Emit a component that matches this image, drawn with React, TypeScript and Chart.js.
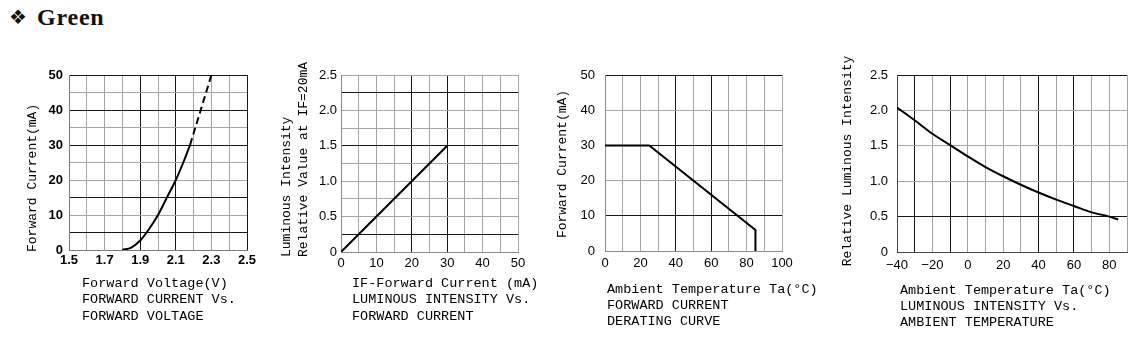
import React, { useEffect, useRef } from 'react';
import { Chart, registerables } from 'chart.js';

Chart.register(...registerables);

// ================= DATA =================
// Panel 1 – Forward current vs. forward voltage
const fvVoltage = [1.8, 1.85, 1.9, 1.95, 2.0, 2.05, 2.1, 2.15, 2.18];
const fvCurrent = [0, 0.7, 2.7, 6, 10, 15, 20, 26, 30];
const fvVoltageDashed = [2.18, 2.3];
const fvCurrentDashed = [30, 50];
const fvXTickLabels = [1.5, 1.7, 1.9, 2.1, 2.3, 2.5];
const fvYTickLabels = [0, 10, 20, 30, 40, 50];

// Panel 2 – Luminous intensity vs. forward current
const liCurrent = [0, 30];
const liRelative = [0, 1.5];
const liXTickLabels = [0, 10, 20, 30, 40, 50];
const liYTickLabels = [0, 0.5, 1.0, 1.5, 2.0, 2.5];

// Panel 3 – Forward current derating curve
const drTemperature = [0, 25, 85, 85];
const drCurrent = [30, 30, 6, 0];
const drXTickLabels = [0, 20, 40, 60, 80, 100];
const drYTickLabels = [0, 10, 20, 30, 40, 50];

// Panel 4 – Luminous intensity vs. ambient temperature
const ltTemperature = [-40, -30, -20, -10, 0, 10, 20, 30, 40, 50, 60, 70, 80, 85];
const ltRelative = [2.04, 1.86, 1.67, 1.51, 1.35, 1.2, 1.07, 0.95, 0.84, 0.74, 0.65, 0.56, 0.5, 0.46];
const ltXTickLabels = [-40, -20, 0, 20, 40, 60, 80];
const ltYTickLabels = [0, 0.5, 1.0, 1.5, 2.0, 2.5];

// Texts
const headingSymbol = '❖';
const headingText = 'Green';
const fvYTitle = ['Forward Current(mA)'];
const fvCaption = ['Forward Voltage(V)', 'FORWARD CURRENT Vs.', 'FORWARD VOLTAGE'];
const liYTitle = ['Luminous Intensity', 'Relative Value at IF=20mA'];
const liCaption = ['IF-Forward Current (mA)', 'LUMINOUS INTENSITY Vs.', 'FORWARD CURRENT'];
const drYTitle = ['Forward Current(mA)'];
const drCaption = ['Ambient Temperature Ta(°C)', 'FORWARD CURRENT', 'DERATING CURVE'];
const ltYTitle = ['Relative Luminous Intensity'];
const ltCaption = ['Ambient Temperature Ta(°C)', 'LUMINOUS INTENSITY Vs.', 'AMBIENT TEMPERATURE'];

// ================= STYLE =================
const LIGHT = '#a4a4a4';
const DARK = '#161616';
const TEXT = '#000000';
const MONO = '"Liberation Mono", "DejaVu Sans Mono", monospace';
const SANS = '"Liberation Sans", Arial, sans-serif';

const near = (list: number[], v: number) => list.some((l) => Math.abs(l - v) < 1e-6);
const pts = (xs: number[], ys: number[]) => xs.map((x, i) => ({ x, y: ys[i] }));
const oneDec = (v: number) => (v === 0 ? '0' : v.toFixed(1));
const plain = (v: number) => (v < 0 ? '−' + Math.abs(v) : String(v));

const panelTextPlugin = {
  id: 'panelText',
  afterDraw(chart: any, _args: any, opts: any) {
    const { ctx } = chart;
    ctx.save();
    ctx.fillStyle = TEXT;
    ctx.textBaseline = 'middle';
    const t = opts.yTitle;
    if (t) {
      ctx.font = `13px ${MONO}`;
      t.lines.forEach((line: string, i: number) => {
        ctx.save();
        ctx.translate(t.x + i * t.lh, t.y);
        ctx.rotate(-Math.PI / 2);
        ctx.textAlign = t.align;
        ctx.fillText(line, 0, 0);
        ctx.restore();
      });
    }
    const c = opts.caption;
    if (c) {
      ctx.font = `13.5px ${MONO}`;
      ctx.textAlign = 'left';
      c.lines.forEach((line: string, i: number) => ctx.fillText(line, c.x, c.y + i * c.lh));
    }
    ctx.restore();
  },
};

interface AxisSpec {
  min: number;
  max: number;
  step: number;
  labels: number[];
  fmt: (v: number) => string;
  dark: number[];
  pad: number;
  bold?: boolean;
  border: string;
}

function axis(a: AxisSpec, fit: (s: any) => void) {
  return {
    type: 'linear',
    min: a.min,
    max: a.max,
    ticks: {
      stepSize: a.step,
      autoSkip: false,
      maxRotation: 0,
      minRotation: 0,
      padding: a.pad,
      color: TEXT,
      font: { family: SANS, size: 13, weight: a.bold ? 'bold' : 'normal' },
      callback: (v: number) => (near(a.labels, v) ? a.fmt(v) : ''),
    },
    grid: {
      drawTicks: false,
      lineWidth: 1,
      color: (c: any) => (c.tick && near(a.dark, c.tick.value) ? DARK : LIGHT),
    },
    border: { color: a.border, width: 1 },
    afterFit: fit,
  };
}

interface PanelSpec {
  left: number;
  top: number;
  right: number;
  bottom: number;
  plot: { l: number; t: number; r: number; b: number };
  x: AxisSpec;
  y: AxisSpec;
  datasets: any[];
  yTitle: { lines: string[]; x: number; y: number; align: string; lh: number };
  caption: { lines: string[]; x: number; y: number; lh: number };
}

const line = (xs: number[], ys: number[], extra: any = {}) => ({
  data: pts(xs, ys),
  borderColor: '#000',
  borderWidth: 2,
  pointRadius: 0,
  fill: false,
  tension: 0,
  ...extra,
});

const panels: PanelSpec[] = [
  {
    left: 15, top: 45, right: 267, bottom: 340,
    plot: { l: 69, t: 75, r: 247, b: 250 },
    x: { min: 1.5, max: 2.5, step: 0.1, labels: fvXTickLabels, fmt: (v) => v.toFixed(1), dark: [1.9, 2.1, 2.5], pad: 3, bold: true, border: '#7a7a7a' },
    y: { min: 0, max: 50, step: 5, labels: fvYTickLabels, fmt: plain, dark: [5, 15, 30, 40, 50], pad: 6, bold: true, border: '#7a7a7a' },
    datasets: [
      line(fvVoltage, fvCurrent, { tension: 0.4, cubicInterpolationMode: 'monotone' }),
      line(fvVoltageDashed, fvCurrentDashed, { borderDash: [7, 4] }),
    ],
    yTitle: { lines: fvYTitle, x: 33, y: 252, align: 'left', lh: 17 },
    caption: { lines: fvCaption, x: 82, y: 283, lh: 16.5 },
  },
  {
    left: 275, top: 45, right: 540, bottom: 340,
    plot: { l: 341, t: 75, r: 518, b: 252 },
    x: { min: 0, max: 50, step: 5, labels: liXTickLabels, fmt: plain, dark: [20, 30], pad: 4, border: '#8a8a8a' },
    y: { min: 0, max: 2.5, step: 0.25, labels: liYTickLabels, fmt: oneDec, dark: [0.25, 1.5, 2.25], pad: 4, border: '#8a8a8a' },
    datasets: [line(liCurrent, liRelative)],
    yTitle: { lines: liYTitle, x: 287, y: 257, align: 'left', lh: 17 },
    caption: { lines: liCaption, x: 352, y: 283, lh: 16.5 },
  },
  {
    left: 550, top: 45, right: 825, bottom: 340,
    plot: { l: 605, t: 75, r: 782, b: 251 },
    x: { min: 0, max: 100, step: 10, labels: drXTickLabels, fmt: plain, dark: [40, 60], pad: 5, border: '#8a8a8a' },
    y: { min: 0, max: 50, step: 10, labels: drYTickLabels, fmt: plain, dark: [10, 30, 50], pad: 10, border: '#8a8a8a' },
    datasets: [line(drTemperature, drCurrent)],
    yTitle: { lines: drYTitle, x: 563, y: 164, align: 'center', lh: 17 },
    caption: { lines: drCaption, x: 607, y: 289, lh: 16 },
  },
  {
    left: 835, top: 45, right: 1147, bottom: 340,
    plot: { l: 897, t: 75, r: 1127, b: 252 },
    x: { min: -40, max: 90, step: 10, labels: ltXTickLabels, fmt: plain, dark: [-30, -10, 40, 60], pad: 6, border: '#444444' },
    y: { min: 0, max: 2.5, step: 0.5, labels: ltYTickLabels, fmt: oneDec, dark: [0.5, 2.5], pad: 9, border: '#444444' },
    datasets: [line(ltTemperature, ltRelative, { tension: 0.4, cubicInterpolationMode: 'monotone' })],
    yTitle: { lines: ltYTitle, x: 848, y: 161, align: 'center', lh: 17 },
    caption: { lines: ltCaption, x: 900, y: 290, lh: 16 },
  },
];

function Panel({ spec }: { spec: PanelSpec }) {
  const ref = useRef<HTMLCanvasElement>(null);
  const w = spec.right - spec.left;
  const h = spec.bottom - spec.top;
  useEffect(() => {
    const yW = spec.plot.l - spec.left;
    const xH = spec.bottom - spec.plot.b;
    const chart = new Chart(ref.current as HTMLCanvasElement, {
      type: 'line',
      data: { datasets: spec.datasets },
      plugins: [panelTextPlugin],
      options: {
        animation: false,
        responsive: false,
        maintainAspectRatio: false,
        layout: {
          padding: { top: spec.plot.t - spec.top, right: spec.right - spec.plot.r, left: 0, bottom: 0 },
        },
        plugins: {
          legend: { display: false },
          tooltip: { enabled: false },
          panelText: {
            yTitle: { ...spec.yTitle, x: spec.yTitle.x - spec.left, y: spec.yTitle.y - spec.top },
            caption: { ...spec.caption, x: spec.caption.x - spec.left, y: spec.caption.y - spec.top },
          },
        } as any,
        scales: {
          x: axis(spec.x, (s: any) => { s.height = xH; }),
          y: axis(spec.y, (s: any) => { s.width = yW; }),
        } as any,
      },
    } as any);
    return () => chart.destroy();
  }, [spec]);
  return (
    <canvas
      ref={ref}
      width={w}
      height={h}
      style={{ position: 'absolute', left: spec.left, top: spec.top, width: w, height: h }}
    />
  );
}

export default function App() {
  return (
    <div style={{ position: 'fixed', left: 0, top: 0, width: 1147, height: 350, background: '#fff', overflow: 'hidden' }}>
      <div style={{ position: 'absolute', left: 9, top: 3, height: 28, display: 'flex', alignItems: 'center', color: '#111' }}>
        <span style={{ fontFamily: '"DejaVu Sans", sans-serif', fontSize: 20, marginRight: 10 }}>{headingSymbol}</span>
        <span style={{ fontFamily: '"Liberation Serif", serif', fontWeight: 'bold', fontSize: 24, letterSpacing: 0.8 }}>{headingText}</span>
      </div>
      {panels.map((p, i) => (
        <Panel key={i} spec={p} />
      ))}
    </div>
  );
}
